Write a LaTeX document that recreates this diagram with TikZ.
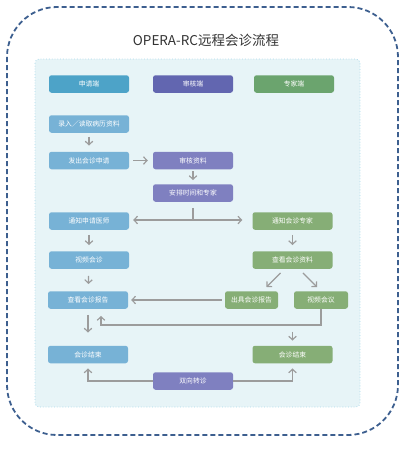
\documentclass[tikz,border=0pt]{standalone}
\usepackage{fontspec}
\setmainfont{Noto Sans CJK SC}
\usetikzlibrary{arrows.meta,calc}
\definecolor{frameblue}{HTML}{3D5F8F}
\definecolor{panelfill}{HTML}{E7F4F7}
\definecolor{panelline}{HTML}{A9D9EA}
\definecolor{hblue}{HTML}{4DA3C8}
\definecolor{hpurple}{HTML}{6266B0}
\definecolor{hgreen}{HTML}{6BA46E}
\definecolor{bblue}{HTML}{77B2D6}
\definecolor{bpurple}{HTML}{7F80C0}
\definecolor{bgreen}{HTML}{86AE76}
\definecolor{arrgray}{HTML}{9C9C9C}
\definecolor{titlegray}{HTML}{333333}
\tikzset{
  box/.style={rounded corners=2.5pt, minimum width=80pt, minimum height=17.5pt, inner sep=0pt,
    text=white, font=\fontsize{6.8}{8}\selectfont},
  hb/.style={box, fill=hblue},
  hp/.style={box, fill=hpurple},
  hg/.style={box, fill=hgreen},
  bb/.style={box, fill=bblue},
  bp/.style={box, fill=bpurple},
  bg/.style={box, fill=bgreen},
  tip/.tip={Straight Barb[length=3.5pt,width=7.5pt]},
  arr/.style={draw=arrgray, line width=1.2pt, -tip},
  darr/.style={draw=arrgray, line width=1.2pt, tip-tip},
  ln/.style={draw=arrgray, line width=1.2pt},
}
\begin{document}
\begin{tikzpicture}[x=1pt,y=-1pt]
\useasboundingbox (0,0) rectangle (410,450);
% outer frame
\draw[frameblue, line width=1.8pt, dash pattern=on 5pt off 3pt, rounded corners=50pt] (7,7) rectangle (398,435);
% inner panel
\draw[panelline, fill=panelfill, dotted, line width=0.8pt, rounded corners=4pt] (35,59) rectangle (360,407);
\node[text=titlegray, font=\fontsize{13.5}{15}\selectfont] (title) at (206,40) {OPERA-RC远程会诊流程};
% headers
\node[hb] (h1) at (89,84) {申请端};
\node[hp] (h2) at (193,84) {审核端};
\node[hg] (h3) at (294,84) {专家端};
% boxes
\node[bb] (a1) at (89,124) {录入／读取病历资料};
\node[bb] (a2) at (89,160.5) {发出会诊申请};
\node[bp] (b1) at (193,160.5) {审核资料};
\node[bp] (b2) at (193,193) {安排时间和专家};
\node[bb] (a3) at (89,221) {通知申请医师};
\node[bg] (c1) at (292.5,221) {通知会诊专家};
\node[bb] (a4) at (89,260) {视频会诊};
\node[bg] (c2) at (292.5,260) {查看会诊资料};
\node[bb] (a5) at (88,300) {查看会诊报告};
\node[bg, minimum width=53pt] (c3) at (251.5,300) {出具会诊报告};
\node[bg, minimum width=54pt] (c4) at (321,300) {视频会议};
\node[bb] (a6) at (88,354.5) {会诊结束};
\node[bg] (c5) at (292.5,354.5) {会诊结束};
\node[bp] (b3) at (193,381) {双向转诊};
% connectors
\draw[arr, shorten <=4, shorten >=6] (a1) -- (a2);
\draw[arr, shorten <=4, shorten >=5] (a2) -- (b1);
\draw[arr, shorten <=2, shorten >=4] (b1) -- (b2);
\coordinate (j1) at (193,220);
\draw[ln, shorten <=6] (b2) -- (j1);
\draw[darr, shorten <=4, shorten >=10] (a3.east |- j1) -- (c1.west |- j1);
\draw[arr, shorten <=5, shorten >=6] (a3) -- (a4);
\draw[arr, shorten <=5, shorten >=6] (c1) -- (c2);
\draw[arr, shorten <=7, shorten >=7] (a4) -- (a5);
\draw[arr] ([xshift=-12pt,yshift=-4pt]c2.south) -- ([xshift=15pt,yshift=4pt]c3.north);
\draw[arr] ([xshift=10.5pt,yshift=-4pt]c2.south) -- ([xshift=-4pt,yshift=4pt]c4.north);
\draw[arr, shorten <=3, shorten >=3] (c3) -- (a5);
\draw[arr, shorten <=6, shorten >=13] (a5) -- (a6);
\coordinate (k) at (101,325);
\draw[arr, shorten >=7] (c4.south) |- (k) -- (k |- a5.south);
\coordinate (m) at (292.5,331.5);
\draw[arr, shorten >=5] (m) -- (c5.north);
\draw[arr, shorten >=5] (b3.west) -| (a6.south);
\draw[arr, shorten >=5] (b3.east) -| (c5.south);
\end{tikzpicture}
\end{document}
